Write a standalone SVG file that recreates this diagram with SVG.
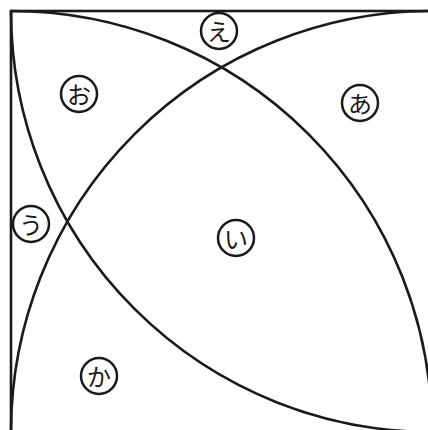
<svg xmlns="http://www.w3.org/2000/svg" width="428" height="430" viewBox="0 0 428 430">
<style>
.ln{fill:none;stroke:#1a1a1a;stroke-width:2.6}
.lb circle{fill:#fff;stroke:#1a1a1a;stroke-width:2.5}
.lb text{font-family:"Noto Sans CJK JP","Noto Sans",sans-serif;font-size:24px;fill:#1a1a1a;text-anchor:middle;dominant-baseline:central}
</style>
<rect width="428" height="430" fill="#fff"/>
<g id="connectors">
<rect class="ln" x="11" y="11" width="421" height="421"/>
<path class="ln" d="M11,11 A421,421 0 0 1 432,432"/>
<path class="ln" d="M432,11 A421,421 0 0 0 11,432"/>
<path class="ln" d="M11,11 A421,421 0 0 0 432,432"/>
</g>
<g id="a" class="lb"><circle cx="360" cy="103" r="18"/><text x="360" y="102">あ</text></g>
<g id="i" class="lb"><circle cx="236" cy="238" r="18"/><text x="236" y="237">い</text></g>
<g id="u" class="lb"><circle cx="31" cy="224" r="18"/><text x="31" y="223">う</text></g>
<g id="e" class="lb"><circle cx="219" cy="31" r="18"/><text x="219" y="30">え</text></g>
<g id="o" class="lb"><circle cx="79" cy="94" r="18"/><text x="79" y="93">お</text></g>
<g id="ka" class="lb"><circle cx="99" cy="376" r="18"/><text x="99" y="375">か</text></g>
</svg>
